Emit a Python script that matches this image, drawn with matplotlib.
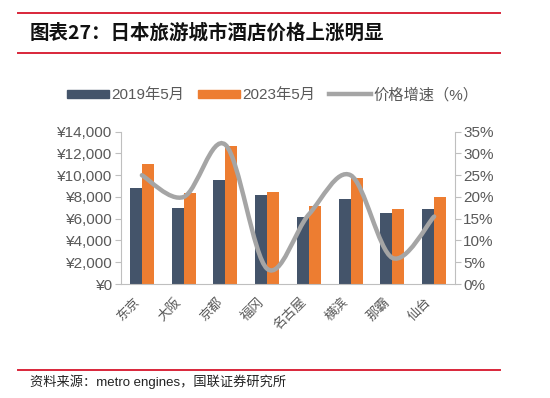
import numpy as np
import matplotlib.pyplot as plt
from matplotlib.path import Path
from matplotlib.patches import PathPatch, Patch
from matplotlib.lines import Line2D

plt.rcParams['font.family'] = ['Liberation Sans', 'Noto Sans CJK SC', 'DejaVu Sans']

cities = ["东京", "大阪", "京都", "福冈", "名古屋", "横滨", "那霸", "仙台"]
price_2019 = [8800, 7000, 9600, 8200, 6200, 7800, 6500, 6900]
price_2023 = [11000, 8400, 12700, 8500, 7200, 9700, 6900, 8000]
growth = [0.25, 0.20, 0.32, 0.035, 0.16, 0.25, 0.06, 0.155]

navy = "#44546A"
orange = "#ED7D31"
grey = "#A5A5A5"
red = "#D9263A"
txt = "#595959"

fig = plt.figure(figsize=(5.5, 3.98), dpi=100)

# header / footer rules
for y in [1 - 13 / 398, 1 - 53 / 398, 1 - 370 / 398]:
    fig.add_artist(Line2D([18 / 550, 500 / 550], [y, y], color=red, lw=1.4))
fig.text(30 / 550, 1 - 33 / 398, "图表27：日本旅游城市酒店价格上涨明显",
         fontsize=14, fontweight="bold", va="center", color="#111111",
         family=['Noto Sans CJK SC', 'DejaVu Sans'])
fig.text(30 / 550, 1 - 382 / 398, "资料来源：metro engines，国联证券研究所",
         fontsize=9.5, va="center", color="#222222")

ax = fig.add_axes([121 / 550, 1 - 284 / 398, (455 - 121) / 550, (284 - 131.7) / 398])
x = np.arange(len(cities))
w = 0.29
ax.bar(x - w / 2, price_2019, w, color=navy, zorder=2)
ax.bar(x + w / 2, price_2023, w, color=orange, zorder=2)
ax.set_xlim(-0.5, len(cities) - 0.5)
ax.set_ylim(0, 14000)
ax.set_yticks(range(0, 14001, 2000))
ax.set_yticklabels(["¥{:,}".format(v) for v in range(0, 14001, 2000)])
ax.set_xticks(x)
ax.set_xticklabels(cities, rotation=45, ha="right", fontsize=9.5,
                   family=['Noto Sans CJK SC', 'DejaVu Sans'])
ax.tick_params(axis="x", length=0, colors=txt, pad=8)
ax.tick_params(axis="y", length=4, color="#BFBFBF", labelcolor=txt, labelsize=11, pad=2)
for s in ["top", "right"]:
    ax.spines[s].set_visible(False)
for s in ["left", "bottom"]:
    ax.spines[s].set_color("#BFBFBF")

ax2 = ax.twinx()
ax2.set_ylim(0, 0.35)
ax2.set_yticks(np.arange(0, 0.351, 0.05))
ax2.set_yticklabels(["{:d}%".format(int(round(v * 100))) for v in np.arange(0, 0.351, 0.05)])
ax2.tick_params(axis="y", length=4, color="#BFBFBF", labelcolor=txt, labelsize=11, pad=2)
for s in ["top", "left", "bottom"]:
    ax2.spines[s].set_visible(False)
ax2.spines["right"].set_color("#BFBFBF")

# smoothed line (Excel style bezier through the points)
pts = np.column_stack([x, growth]).astype(float)
verts = [pts[0]]
codes = [Path.MOVETO]
n = len(pts)
for i in range(n - 1):
    p0 = pts[i - 1] if i > 0 else pts[i]
    p1 = pts[i]
    p2 = pts[i + 1]
    p3 = pts[i + 2] if i + 2 < n else pts[i + 1]
    c1 = p1 + (p2 - p0) / 6
    c2 = p2 - (p3 - p1) / 6
    verts += [c1, c2, p2]
    codes += [Path.CURVE4] * 3
ax2.add_patch(PathPatch(Path(verts, codes), fill=False, edgecolor=grey, lw=3.2,
                        capstyle="round", zorder=3))

handles = [Patch(color=navy, label="2019年5月"),
           Patch(color=orange, label="2023年5月"),
           Line2D([0], [0], color=grey, lw=3.2, label="价格增速（%）")]
leg = fig.legend(handles=handles, loc="center", bbox_to_anchor=(273 / 550, 1 - 95 / 398),
                 ncol=3, frameon=False, fontsize=11, handlelength=2.7, handleheight=0.5,
                 handletextpad=0.2, columnspacing=0.9)
for t in leg.get_texts():
    t.set_color(txt)

fig.savefig("out.png", dpi=100)
